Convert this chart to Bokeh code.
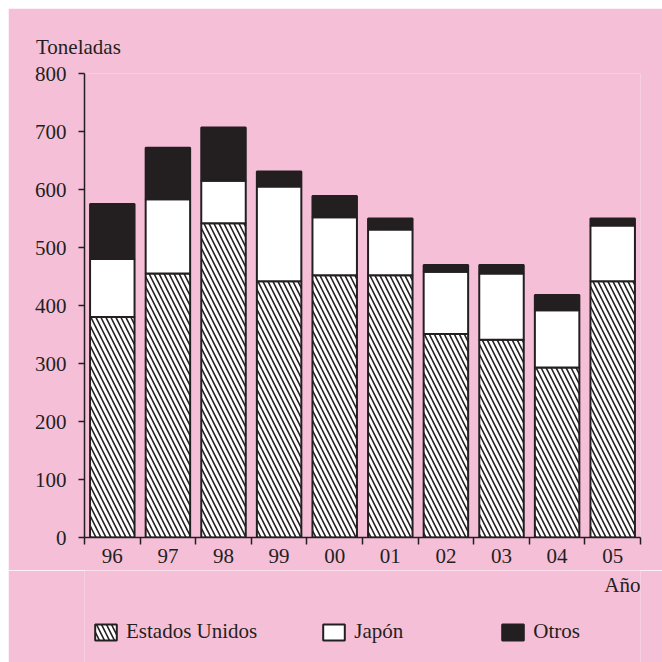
from bokeh.plotting import figure
from bokeh.layouts import column
from bokeh.models import (FixedTicker, Legend, LegendItem, Range1d, Title, Label)
from bokeh.embed import file_html
from bokeh.resources import INLINE

# ---- data ----
years = ['96', '97', '98', '99', '00', '01', '02', '03', '04', '05']
estados_unidos = [380, 455, 542, 442, 452, 452, 351, 341, 293, 442]
japon = [100, 128, 73, 163, 100, 79, 107, 114, 99, 96]
otros = [95, 89, 92, 26, 37, 19, 12, 15, 26, 12]
y_ticks = [0, 100, 200, 300, 400, 500, 600, 700, 800]
series_names = ["Estados Unidos", "Japón", "Otros"]

PINK = "#f6bfd8"
INK = "#231f20"
FONT = "Liberation Serif"
FS = "21px"

n = len(years)
xc = [i + 0.5 for i in range(n)]
jp_top = [a + b for a, b in zip(estados_unidos, japon)]
ot_top = [a + b for a, b in zip(jp_top, otros)]

us_style = dict(fill_color="white", hatch_pattern="\\", hatch_color=INK,
                hatch_scale=10, hatch_weight=1.6, line_color=INK, line_width=2)
jp_style = dict(fill_color="white", line_color=INK, line_width=2)
ot_style = dict(fill_color=INK, line_color=INK, line_width=2)

# ---------------- main chart ----------------
p = figure(width=654, height=562, output_backend="svg", toolbar_location=None,
           x_range=Range1d(0, n), y_range=Range1d(0, 800),
           min_border_left=76, min_border_right=22, min_border_top=65, min_border_bottom=33)
p.margin = (8, 0, 0, 8)
p.background_fill_color = PINK
p.border_fill_color = PINK
p.outline_line_color = None
p.xgrid.visible = False
p.ygrid.visible = False

p.vbar(x=xc, bottom=0, top=estados_unidos, width=0.8, **us_style)
p.vbar(x=xc, bottom=estados_unidos, top=jp_top, width=0.8, **jp_style)
p.vbar(x=xc, bottom=jp_top, top=ot_top, width=0.8, **ot_style)

xa = p.xaxis[0]
xa.ticker = FixedTicker(ticks=xc, minor_ticks=list(range(n + 1)))
xa.major_label_overrides = {float(x): y for x, y in zip(xc, years)}
xa.major_tick_out = 0
xa.major_tick_in = 0
xa.minor_tick_out = 7
xa.minor_tick_in = 0
xa.minor_tick_line_color = INK
xa.minor_tick_line_width = 1.5
xa.major_label_standoff = 4

ya = p.yaxis[0]
ya.ticker = FixedTicker(ticks=y_ticks)
ya.major_tick_out = 6
ya.major_tick_in = 0
ya.minor_tick_line_color = None
ya.major_label_standoff = 12

for ax in (xa, ya):
    ax.axis_line_color = INK
    ax.axis_line_width = 1.5
    ax.major_tick_line_color = INK if ax is ya else None
    ax.major_tick_line_width = 1.5
    ax.major_label_text_font = FONT
    ax.major_label_text_font_size = FS
    ax.major_label_text_color = INK

t_top = Title(text="Toneladas", align="left", offset=-48.5, standoff=29,
              text_font=FONT, text_font_size=FS, text_color=INK, text_font_style="normal")
p.add_layout(t_top, "above")

# ---------------- legend strip (frame aligned with the chart frame) ----------------
p2 = figure(width=654, height=92, output_backend="svg", toolbar_location=None,
            x_range=Range1d(0, 556), y_range=Range1d(0, 92),
            x_axis_type=None, y_axis_type=None,
            min_border=0, min_border_left=0, min_border_right=0,
            min_border_top=0, min_border_bottom=0)
p2.margin = (0, 0, 0, 8)
p2.background_fill_color = PINK
p2.border_fill_color = PINK
p2.outline_line_color = None

# legend proxies (hidden copies of the series)
r_us = p2.vbar(x=xc, bottom=0, top=estados_unidos, width=0.8, visible=False, **us_style)
r_jp = p2.vbar(x=xc, bottom=estados_unidos, top=jp_top, width=0.8, visible=False, **jp_style)
r_ot = p2.vbar(x=xc, bottom=jp_top, top=ot_top, width=0.8, visible=False, **ot_style)

p2.add_layout(Label(x=556, y=78, text="Año", text_font=FONT, text_font_size=FS,
                    text_color=INK, text_align="right", text_baseline="alphabetic"))

items = [LegendItem(label=series_names[0], renderers=[r_us]),
         LegendItem(label=series_names[1], renderers=[r_jp]),
         LegendItem(label=series_names[2], renderers=[r_ot])]
legend = Legend(items=items, location=(8, 18), orientation="horizontal",
                glyph_width=27, glyph_height=20, label_width=82, spacing=63,
                label_text_font=FONT, label_text_font_size=FS, label_text_color=INK,
                border_line_color=None, background_fill_alpha=0, padding=0, margin=0,
                label_standoff=7, inactive_fill_alpha=0)
p2.add_layout(legend)

layout = column(p, p2, spacing=0)
open("out.html", "w").write(file_html(layout, INLINE))
